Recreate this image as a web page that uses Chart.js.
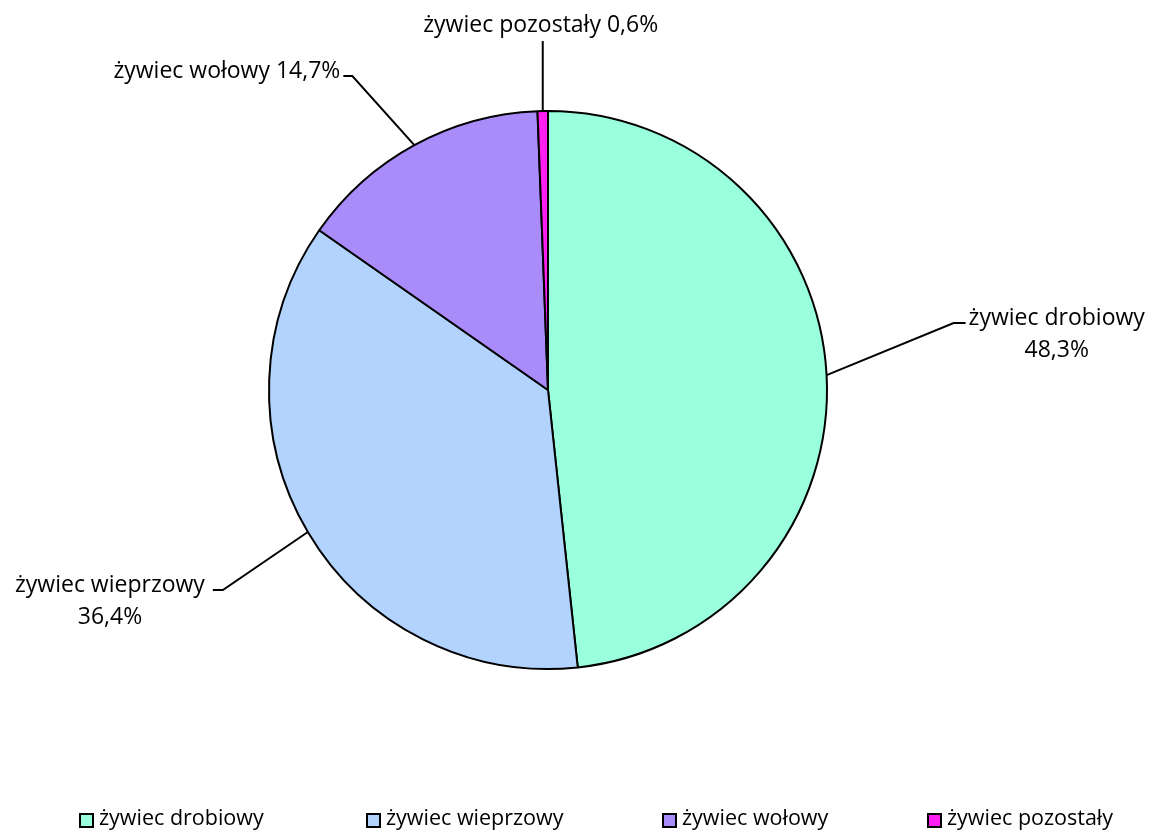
<!DOCTYPE html>
<html>
<head>
<meta charset="utf-8">
<script src="https://cdn.jsdelivr.net/npm/chart.js@4/dist/chart.umd.min.js"></script>
<style>
  html, body { margin: 0; padding: 0; background: #fff; }
  #wrap { width: 1154px; height: 833px; }
</style>
</head>
<body>
<div id="wrap"><canvas id="pie" width="1154" height="833"></canvas></div>
<script>
const categories = ['żywiec drobiowy', 'żywiec wieprzowy', 'żywiec wołowy', 'żywiec pozostały'];
const shares = [48.3, 36.4, 14.7, 0.6];
const colors = ['#99FFDD', '#B3D3FF', '#A98BFA', '#FF1FF0'];

const FONT = '23px "Open Sans", "Noto Sans", sans-serif';
const LEGEND_FONT = '21.5px "Open Sans", "Noto Sans", sans-serif';

// where the label leader line bends, relative to the slice edge point, and how text sits
const labelLayout = [
  { dx: 127, dy: -52, tail: 12, side: 'right', lines: 2 },
  { dx: -85, dy: 58, tail: -10, side: 'left', lines: 2 },
  { dx: -62, dy: -69, tail: -9, side: 'left', lines: 1 },
  { dx: 0, dy: -70, tail: 0, side: 'top', lines: 1 }
];

const fmt = v => v.toFixed(1).replace('.', ',') + '%';

const labelPlugin = {
  id: 'leaderLabels',
  afterDatasetsDraw(chart) {
    const ctx = chart.ctx;
    const meta = chart.getDatasetMeta(0);
    ctx.save();
    ctx.font = FONT;
    ctx.fillStyle = '#000';
    ctx.strokeStyle = '#000';
    ctx.lineWidth = 2;
    meta.data.forEach((arc, i) => {
      const p = arc.getProps(['x', 'y', 'startAngle', 'endAngle', 'outerRadius'], true);
      const mid = (p.startAngle + p.endAngle) / 2;
      const ex = p.x + Math.cos(mid) * p.outerRadius;
      const ey = p.y + Math.sin(mid) * p.outerRadius;
      const L = labelLayout[i];
      const bx = ex + L.dx, by = ey + L.dy;
      ctx.beginPath();
      ctx.moveTo(ex, ey);
      ctx.lineTo(bx, by);
      ctx.lineTo(bx + L.tail, by);
      ctx.stroke();
      const name = categories[i], val = fmt(shares[i]);
      ctx.textBaseline = 'middle';
      if (L.side === 'top') {
        ctx.textAlign = 'center';
        ctx.fillText(name + ' ' + val, bx - 2, by - 16);
      } else if (L.lines === 1) {
        ctx.textAlign = L.side === 'right' ? 'left' : 'right';
        ctx.fillText(name + ' ' + val, bx + L.tail + (L.side === 'right' ? 4 : -3), by - 5);
      } else {
        const w = ctx.measureText(name).width;
        const x0 = L.side === 'right' ? bx + L.tail + 3 : bx + L.tail - 8 - w;
        ctx.textAlign = 'center';
        ctx.fillText(name, x0 + w / 2, by - 5);
        ctx.fillText(val, x0 + w / 2, by + 27);
      }
    });
    ctx.restore();
  }
};

const legendCols = [80, 367, 663, 928];
const legendPlugin = {
  id: 'excelLegend',
  afterDraw(chart) {
    const ctx = chart.ctx;
    ctx.save();
    ctx.font = LEGEND_FONT;
    ctx.textBaseline = 'middle';
    ctx.textAlign = 'left';
    categories.forEach((c, i) => {
      const x = legendCols[i], y = 821;
      ctx.fillStyle = colors[i];
      ctx.fillRect(x, y - 7, 13, 13);
      ctx.strokeStyle = '#000';
      ctx.lineWidth = 2;
      ctx.strokeRect(x, y - 7, 13, 13);
      ctx.fillStyle = '#000';
      ctx.fillText(c, x + 19, y - 2);
    });
    ctx.restore();
  }
};

new Chart(document.getElementById('pie'), {
  type: 'pie',
  data: {
    labels: categories,
    datasets: [{
      data: shares,
      backgroundColor: colors,
      borderColor: '#000',
      borderWidth: 2
    }]
  },
  options: {
    responsive: false,
    animation: false,
    layout: { padding: { left: 200, right: 258, top: 110, bottom: 163 } },
    plugins: { legend: { display: false }, tooltip: { enabled: false } }
  },
  plugins: [labelPlugin, legendPlugin]
});
</script>
</body>
</html>
